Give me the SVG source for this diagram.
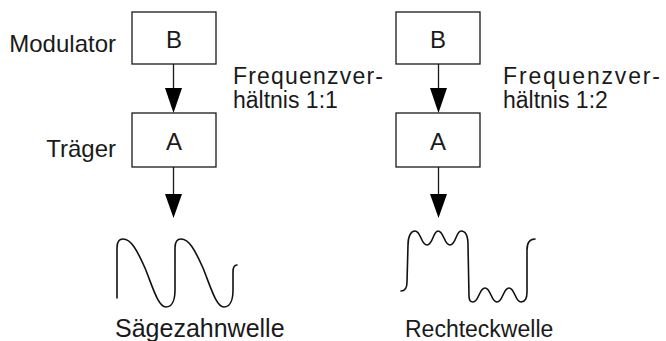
<svg xmlns="http://www.w3.org/2000/svg" width="666" height="341" viewBox="0 0 666 341">
<style>
text{font-family:"Liberation Sans",Arial,sans-serif;fill:#1a1a1a}
.box{fill:#fff;stroke:#1a1a1a;stroke-width:1.3}
.lbl{font-size:24px}
.nd{font-size:24px;text-anchor:middle}
.fr{font-size:23px}
.wave{fill:none;stroke:#111;stroke-width:1.6;stroke-linecap:round;stroke-linejoin:round}
.conn{stroke:#1a1a1a;stroke-width:1.3}
.head{fill:#000}
</style>
<g id="labels">
<text class="lbl" x="116" y="52" text-anchor="end">Modulator</text>
<text class="lbl" x="116" y="157" text-anchor="end">Träger</text>
</g>
<g id="left-B"><rect class="box" x="132" y="12" width="84" height="52"/><text class="nd" x="174" y="48">B</text></g>
<g id="left-A"><rect class="box" x="132" y="113" width="84" height="54"/><text class="nd" x="174" y="150">A</text></g>
<g id="right-B"><rect class="box" x="396" y="12" width="84" height="52"/><text class="nd" x="438" y="48">B</text></g>
<g id="right-A"><rect class="box" x="396" y="113" width="84" height="54"/><text class="nd" x="438" y="150">A</text></g>
<g id="connectors">
<line class="conn" x1="173.5" y1="64" x2="173.5" y2="90"/>
<path class="head" d="M165,88 L182,88 L173.5,113 Z"/>
<line class="conn" x1="173.5" y1="167" x2="173.5" y2="196"/>
<path class="head" d="M165,194 L182,194 L173.5,218 Z"/>
<line class="conn" x1="438.5" y1="64" x2="438.5" y2="90"/>
<path class="head" d="M430,88 L447,88 L438.5,113 Z"/>
<line class="conn" x1="438.5" y1="167" x2="438.5" y2="196"/>
<path class="head" d="M430,194 L447,194 L438.5,218 Z"/>
</g>
<g id="ratio-left">
<text class="fr" x="233" y="84" textLength="150" lengthAdjust="spacing">Frequenzver-</text>
<text class="fr" x="233" y="108">hältnis 1:1</text>
</g>
<g id="ratio-right">
<text class="fr" x="503" y="84" textLength="157" lengthAdjust="spacing">Frequenzver-</text>
<text class="fr" x="503" y="108">hältnis 1:2</text>
</g>
<g id="saw">
<path class="wave" d="M117,298 L117,248 C117,242 119,239 123,239 C131,239 137,250 145,268 C152,285 158,307 166,307 C172,307 175,300 175,290 L175,248 C175,242 177,239 181,239 C189,239 195,250 203,268 C210,285 216,307 224,307 C230,307 233,300 233,290 L233,272 C233,267 235,265 237,265"/>
<text class="lbl" x="115" y="337" style="font-size:25px">Sägezahnwelle</text>
</g>
<g id="square">
<path class="wave" d="M401,291 C405,291 407,288 407,282 L408,245 C408,236 411,231 415,231 C421,231 421,245 427,245 C433,245 433,231 438,231 C444,231 444,245 450,245 C456,245 456,231 461,231 C466,231 468,236 468,245 L469,296 C469,300 471,302 473,302 C479,302 479,288 485,288 C491,288 491,302 497,302 C503,302 503,288 509,288 C515,288 515,302 521,302 C525,302 527,299 527,292 L527,250 C527,243 530,239 535,239"/>
<text class="lbl" x="405" y="337" style="font-size:23px">Rechteckwelle</text>
</g>
</svg>
